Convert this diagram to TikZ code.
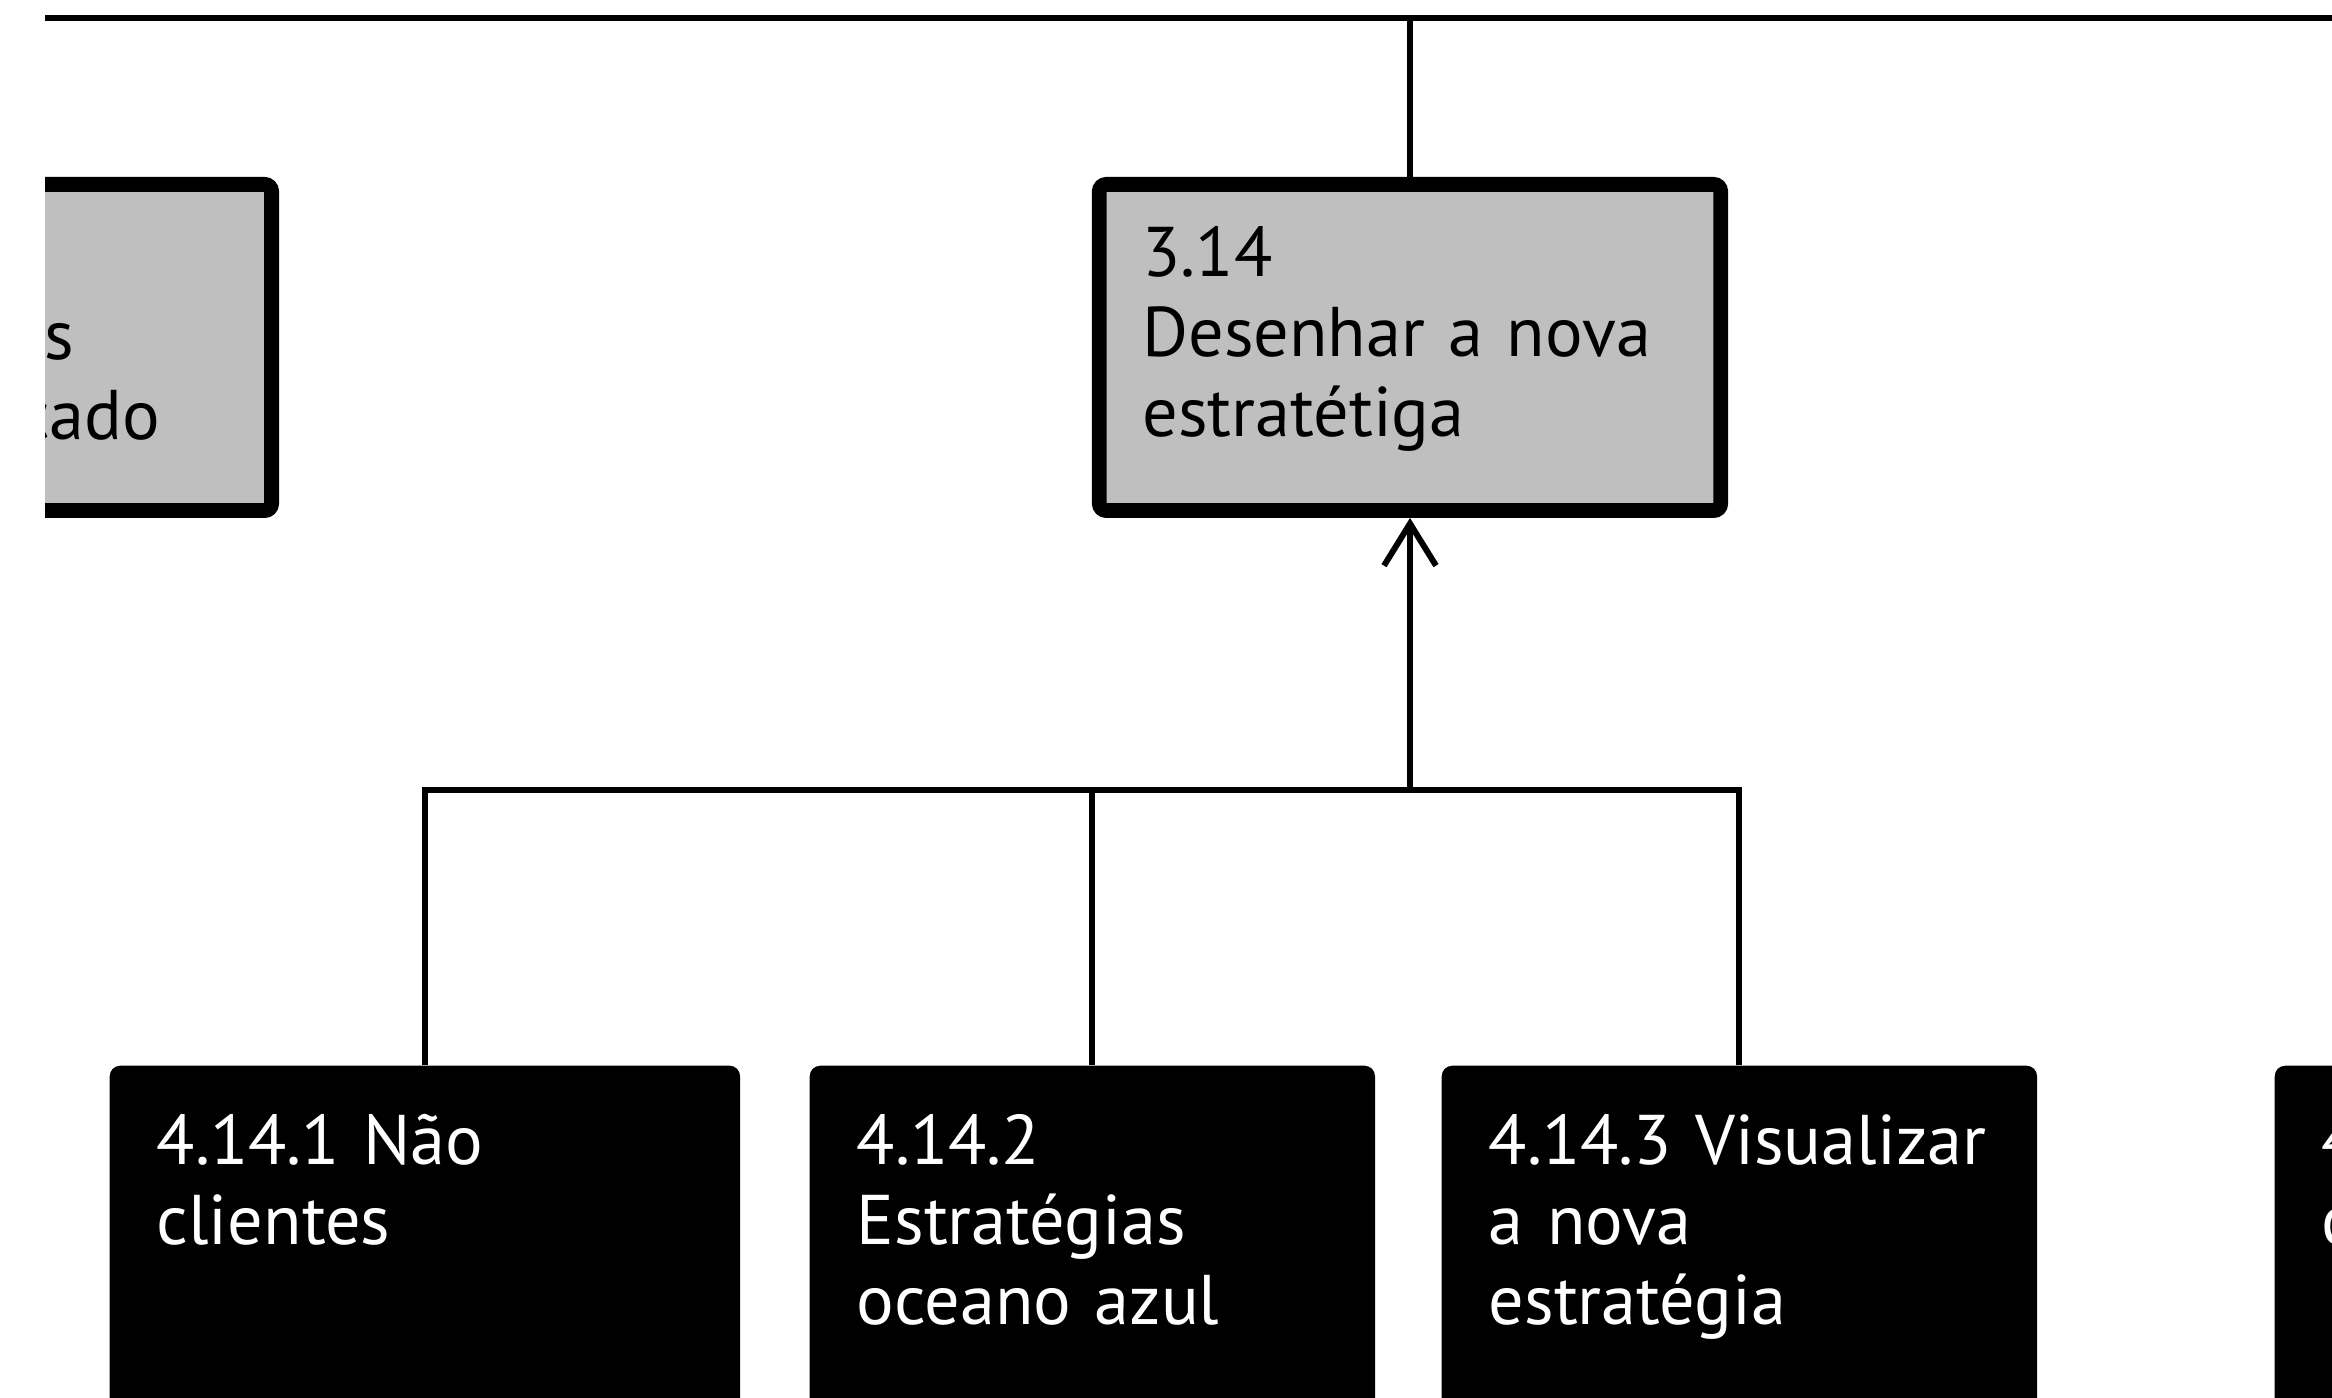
\documentclass[tikz,border=0pt]{standalone}
\usepackage{fontspec}
\setmainfont{PT Sans}
\usetikzlibrary{positioning, arrows.meta, calc}
\definecolor{boxgrey}{RGB}{191,191,191}
\tikzset{
	>={Straight Barb[length=4.2mm, width=5.2mm]}, % open arrow head
	link/.style={draw=black, line width=1.7pt}, % connecting lines
	every node/.style={font=\fontsize{20}{22.7}\selectfont, align=left},
	task/.style={draw=black, line width=4.2pt, fill=boxgrey, rounded corners=2pt,
		inner xsep=4.3mm, inner ysep=4.2mm, text height=5mm, text depth=19.2mm}, % grey tasks
	subtask/.style={fill=black, text=white, rounded corners=3pt, anchor=north west,
		inner xsep=4.7mm, inner ysep=4.9mm, text height=5mm, text depth=30mm}, % black sub-tasks
	cut/.style={inner sep=0pt, anchor=base east}, % clipped text pieces
}
\begin{document}
\begin{tikzpicture}[x=0.01cm, y=-0.01cm]
	\useasboundingbox (0,0) rectangle (2332,1398);
	\clip (45,0) rectangle (2332,1398);

	% Top bar
	\coordinate (topL) at (45,18);
	\coordinate (topR) at (2332,18);
	\draw[link] (topL) -- (topR);

	% Grey tasks
	\node[task, anchor=north east, text width=60mm] (mercado) at (279,177) {};
	\node[cut] (mercadoA) at (75,360) {s};
	\node[cut] (mercadoB) at (161,440) {cado};
	\node[task, anchor=north, text width=53.5mm] (desenhar) at (1410,177)
		{3.14\\Desenhar a nova\\estratétiga};

	% Black sub-tasks
	\node[subtask, text width=53.6mm] (naocli) at (109,1065) {4.14.1 Não\\clientes};
	\node[subtask, text width=47.1mm] (oceano) at (809,1065) {4.14.2\\Estratégias\\oceano azul};
	\node[subtask, text width=50.1mm] (visual) at (1441,1065) {4.14.3 Visualizar\\a nova\\estratégia};
	\node[subtask, text width=50mm] (proxima) at (2274,1065) {4\\c};

	% Edges
	\coordinate (join) at (1410,790);
	\draw[link] (desenhar.north) -- (desenhar.north |- topL);
	\draw[link, ->] (join) -- (desenhar.south);
	\draw[link] (naocli.north) |- (join) -| (visual.north);
	\draw[link] (oceano.north) -- (oceano.north |- join);
\end{tikzpicture}
\end{document}
